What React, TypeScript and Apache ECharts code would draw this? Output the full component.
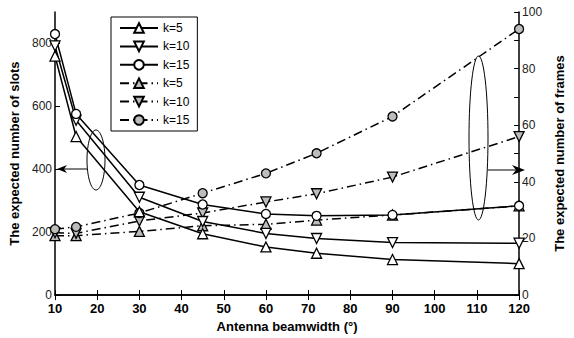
import React, { useEffect, useRef } from "react";
import * as echarts from "echarts";

const beamwidths = [10, 15, 30, 45, 60, 72, 90, 120];
const slotsK5 = [760, 504, 265, 195, 153, 133, 113, 100];
const slotsK10 = [792, 556, 311, 234, 196, 180, 167, 165];
const slotsK15 = [830, 576, 350, 288, 258, 252, 255, 284];
const framesK5 = [21, 21, 22.5, 24.5, 25, 26.5, 28.3, 31.5];
const framesK10 = [22, 21.8, 26.2, 29, 32.9, 35.8, 41.7, 56];
const framesK15 = [23.3, 24.1, 29, 36, 43, 50.1, 63.1, 94];
const legendLabels: Record<string, string> = {
  s5: "k=5", s10: "k=10", s15: "k=15", f5: "k=5", f10: "k=10", f15: "k=15",
};

const FONT = "'Liberation Sans', Arial, sans-serif";

export default function App() {
  const ref = useRef<HTMLDivElement>(null);
  useEffect(() => {
    if (!ref.current) return;
    const chart = echarts.init(ref.current, undefined, { renderer: "svg" });
    const mk = (
      name: string,
      data: number[],
      yAxisIndex: number,
      symbol: string,
      rotate: number,
      dashed: boolean
    ) => ({
      name,
      type: "line",
      yAxisIndex,
      data: beamwidths.map((x, i) => [x, data[i]]),
      symbol,
      symbolRotate: rotate,
      symbolSize: symbol === "circle" ? 9 : 10,
      lineStyle: {
        color: "#000",
        width: 1.5,
        type: dashed ? [9, 4, 1.5, 4] : "solid",
      },
      itemStyle: {
        color: dashed ? "#bdbdbd" : "#fff",
        borderColor: "#000",
        borderWidth: 1.3,
      },
      z: dashed ? 2 : 3,
    });
    chart.setOption({
      animation: false,
      textStyle: { fontFamily: FONT },
      grid: { left: 55, right: 43, top: 12, bottom: 36 },
      legend: {
        orient: "vertical",
        left: 111,
        top: 17,
        padding: [5, 8, 5, 8],
        itemWidth: 38,
        itemHeight: 12,
        itemGap: 6.4,
        borderColor: "#000",
        borderWidth: 1,
        backgroundColor: "#fff",
        formatter: (n: string) => legendLabels[n],
        textStyle: { fontSize: 12, color: "#000", fontFamily: FONT },
        data: ["s5", "s10", "s15", "f5", "f10", "f15"],
      },
      xAxis: [
        {
          type: "value",
          min: 10,
          max: 120,
          interval: 10,
          name: "Antenna beamwidth (°)",
          nameLocation: "middle",
          nameGap: 22,
          nameTextStyle: { fontSize: 13, fontWeight: "bold", color: "#000" },
          axisLine: { lineStyle: { color: "#000", width: 1.5 } },
          axisTick: { inside: true, length: 5, lineStyle: { color: "#000" } },
          axisLabel: { fontSize: 13, fontWeight: "bold", color: "#000", margin: 7 },
          splitLine: { show: false },
        },
        {
          type: "value",
          position: "top",
          min: 10,
          max: 120,
          interval: 10,
          axisLine: { lineStyle: { color: "#000", width: 1.5 } },
          axisTick: { inside: true, length: 5, lineStyle: { color: "#000" } },
          axisLabel: { show: false },
          splitLine: { show: false },
        },
      ],
      yAxis: [
        {
          type: "value",
          min: 0,
          max: 900,
          interval: 200,
          name: "The expected number of slots",
          nameLocation: "middle",
          nameGap: 32,
          nameTextStyle: { fontSize: 13, fontWeight: "bold", color: "#000" },
          axisLine: { show: true, lineStyle: { color: "#000", width: 1.5 } },
          axisTick: { show: true, inside: true, length: 5, lineStyle: { color: "#000" } },
          axisLabel: {
            fontSize: 12,
            color: "#222",
            margin: 3,
            showMaxLabel: false,
          },
          splitLine: { show: false },
        },
        {
          type: "value",
          min: 0,
          max: 100,
          interval: 10,
          position: "right",
          name: "The expected number of frames",
          nameLocation: "middle",
          nameGap: 22,
          nameRotate: 90,
          nameTextStyle: { fontSize: 13, fontWeight: "bold", color: "#000" },
          axisLine: { show: true, lineStyle: { color: "#000", width: 1.5 } },
          axisTick: { show: true, inside: true, length: 5, lineStyle: { color: "#000" } },
          axisLabel: {
            fontSize: 12,
            color: "#222",
            margin: 3,
            formatter: (v: number) => (v % 20 === 0 ? String(v) : ""),
          },
          splitLine: { show: false },
        },
      ],
      series: [
        mk("s5", slotsK5, 0, "triangle", 0, false),
        mk("s10", slotsK10, 0, "triangle", 180, false),
        mk("s15", slotsK15, 0, "circle", 0, false),
        mk("f5", framesK5, 1, "triangle", 0, true),
        mk("f10", framesK10, 1, "triangle", 180, true),
        mk("f15", framesK15, 1, "circle", 0, true),
      ],
      graphic: [
        { type: "ellipse", shape: { cx: 96, cy: 160, rx: 9, ry: 30 }, style: { fill: "none", stroke: "#000", lineWidth: 1 }, z: 10 },
        { type: "line", shape: { x1: 87, y1: 169, x2: 60, y2: 169 }, style: { stroke: "#000", lineWidth: 1 }, z: 10 },
        { type: "polygon", shape: { points: [[57, 169], [67, 165], [64, 169], [67, 173]] }, style: { fill: "#000" }, z: 10 },
        { type: "ellipse", shape: { cx: 478.5, cy: 138, rx: 9.5, ry: 82 }, style: { fill: "none", stroke: "#000", lineWidth: 1 }, z: 10 },
        { type: "line", shape: { x1: 488, y1: 170, x2: 522, y2: 170 }, style: { stroke: "#000", lineWidth: 1 }, z: 10 },
        { type: "polygon", shape: { points: [[525, 170], [512, 165], [516, 170], [512, 175]] }, style: { fill: "#000" }, z: 10 },
      ],
    });
    return () => chart.dispose();
  }, []);
  return <div ref={ref} style={{ width: 574, height: 338, position: "absolute", left: 0, top: 0 }} />;
}
